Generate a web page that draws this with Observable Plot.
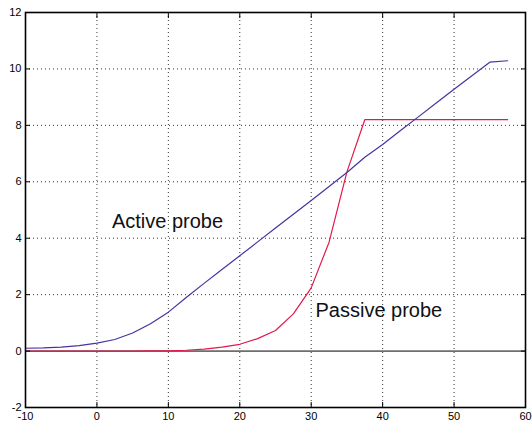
<!DOCTYPE html>
<html>
<head>
<meta charset="utf-8">
<script src="https://cdn.jsdelivr.net/npm/d3@7"></script>
<script src="https://cdn.jsdelivr.net/npm/@observablehq/plot@0.6"></script>
<style>
  html, body { margin: 0; padding: 0; background: #fff; }
  #chart svg { display: block; }
</style>
</head>
<body>
<div id="chart"></div>
<script>
// Data
const xs = [-10, -7.5, -5, -2.5, 0, 2.5, 5, 7.5, 10, 12.5, 15, 17.5, 20, 22.5, 25, 27.5, 30, 32.5, 35, 37.5, 40, 42.5, 45, 47.5, 50, 52.5, 55, 57.5];
const activeProbe = [0.10, 0.11, 0.14, 0.19, 0.28, 0.41, 0.64, 0.97, 1.38, 1.90, 2.40, 2.89, 3.38, 3.87, 4.36, 4.85, 5.34, 5.83, 6.33, 6.87, 7.32, 7.82, 8.30, 8.79, 9.28, 9.76, 10.24, 10.29];
const passiveProbe = [0, 0, 0, 0, 0, 0, 0, 0.005, 0.01, 0.03, 0.07, 0.14, 0.24, 0.44, 0.73, 1.32, 2.24, 3.86, 6.35, 8.2, 8.2, 8.2, 8.2, 8.2, 8.2, 8.2, 8.2, 8.2];
const xTicks = [-10, 0, 10, 20, 30, 40, 50, 60];
const yTicks = [-2, 0, 2, 4, 6, 8, 10, 12];
const xGrid = [0, 10, 20, 30, 40, 50];
const yGrid = [2, 4, 6, 8, 10];
const labels = [
  {x: 2.1, y: 4.37, text: "Active probe"},
  {x: 30.6, y: 1.2, text: "Passive probe"}
];

const active = xs.map((x, i) => ({x, y: activeProbe[i]}));
const passive = xs.map((x, i) => ({x, y: passiveProbe[i]}));

const fmt = d => String(d);

const chart = Plot.plot({
  width: 532,
  height: 423,
  marginLeft: 25,
  marginRight: 7,
  marginTop: 12,
  marginBottom: 16,
  style: {fontFamily: "'Liberation Sans', Arial, Helvetica, sans-serif", fontSize: "11px", color: "black", background: "white"},
  x: {domain: [-10, 60]},
  y: {domain: [-2, 12]},
  marks: [
    Plot.gridX(xGrid, {stroke: "black", strokeOpacity: 0.8, strokeDasharray: "1,3"}),
    Plot.gridY(yGrid, {stroke: "black", strokeOpacity: 0.8, strokeDasharray: "1,3"}),
    Plot.ruleY([0], {stroke: "black", strokeWidth: 1}),
    Plot.line(passive, {x: "x", y: "y", stroke: "#e3184c", strokeWidth: 1.2}),
    Plot.line(active, {x: "x", y: "y", stroke: "#4533a3", strokeWidth: 1.2}),
    Plot.text(labels, {x: "x", y: "y", text: "text", textAnchor: "start", lineAnchor: "bottom", fontSize: 20, fill: "#111", fontFamily: "'Liberation Sans', Arial, sans-serif"}),
    Plot.axisX(xTicks, {anchor: "bottom", tickSize: -5, tickPadding: 10, tickFormat: fmt, label: null, fontSize: 11}),
    Plot.axisX(xTicks, {anchor: "top", tickSize: -5, tickFormat: () => "", label: null}),
    Plot.axisY(yTicks, {anchor: "left", tickSize: -5, tickPadding: 9, tickFormat: fmt, label: null, fontSize: 11}),
    Plot.axisY(yTicks, {anchor: "right", tickSize: -5, tickFormat: () => "", label: null}),
    Plot.frame({stroke: "black", strokeWidth: 1.6})
  ]
});
document.getElementById("chart").appendChild(chart);
</script>
</body>
</html>
